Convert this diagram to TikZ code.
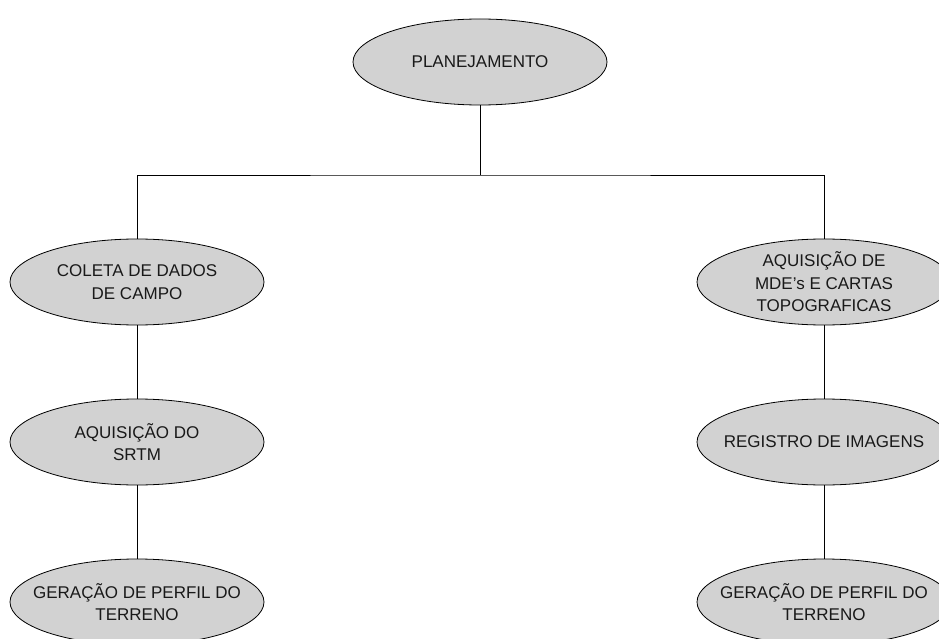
\documentclass[tikz,border=0pt]{standalone}
\usepackage{fontspec}
\setmainfont{Liberation Sans}
\usetikzlibrary{shapes.geometric}
\definecolor{elfill}{RGB}{210,210,210}
\definecolor{txtc}{RGB}{25,25,25}
\tikzset{
  elnode/.style={ellipse, draw=black, line width=0.8pt, fill=elfill,
    minimum width=254pt, minimum height=86pt, inner sep=0pt},
  eltext/.style={align=center, text=txtc, inner sep=0pt,
    font=\fontsize{17pt}{22.5pt}\selectfont},
  conn/.style={draw=black, line width=0.8pt}
}
\begin{document}
\begin{tikzpicture}[x=1pt,y=-1pt]
\useasboundingbox (0,0) rectangle (939,639);
\clip (0,0) rectangle (939,639);
\fill[white] (0,0) rectangle (939,639);
% ellipses
\node[elnode] (plan) at (480,62) {};
\node[elnode] (col) at (137,282) {};
\node[elnode] (srtm) at (137,442) {};
\node[elnode] (gerL) at (137,602) {};
\node[elnode] (mde) at (824,282) {};
\node[elnode] (reg) at (824,442) {};
\node[elnode] (gerR) at (824,602) {};
% texts
\node[eltext] (tplan) at (plan) {PLANEJAMENTO};
\node[eltext] (tcol) at (col) {COLETA DE DADOS\\DE CAMPO};
\node[eltext] (tsrtm) at (srtm) {AQUISIÇÃO DO\\SRTM};
\node[eltext] (tgerL) at (gerL) {GERAÇÃO DE PERFIL DO\\TERRENO};
\node[eltext] (tmde) at (mde) {AQUISIÇÃO DE\\MDE's E CARTAS\\TOPOGRAFICAS};
\node[eltext] (treg) at (reg) {REGISTRO DE IMAGENS};
\node[eltext] (tgerR) at (gerR) {GERAÇÃO DE PERFIL DO\\TERRENO};
% connectors
\coordinate (hy) at (480,175);
\draw[conn] (plan.south) -- (hy);
\draw[conn] (col.north) |- (hy) -| (mde.north);
\draw[conn] (col.south) -- (srtm.north);
\draw[conn] (srtm.south) -- (gerL.north);
\draw[conn] (mde.south) -- (reg.north);
\draw[conn] (reg.south) -- (gerR.north);
\end{tikzpicture}
\end{document}
